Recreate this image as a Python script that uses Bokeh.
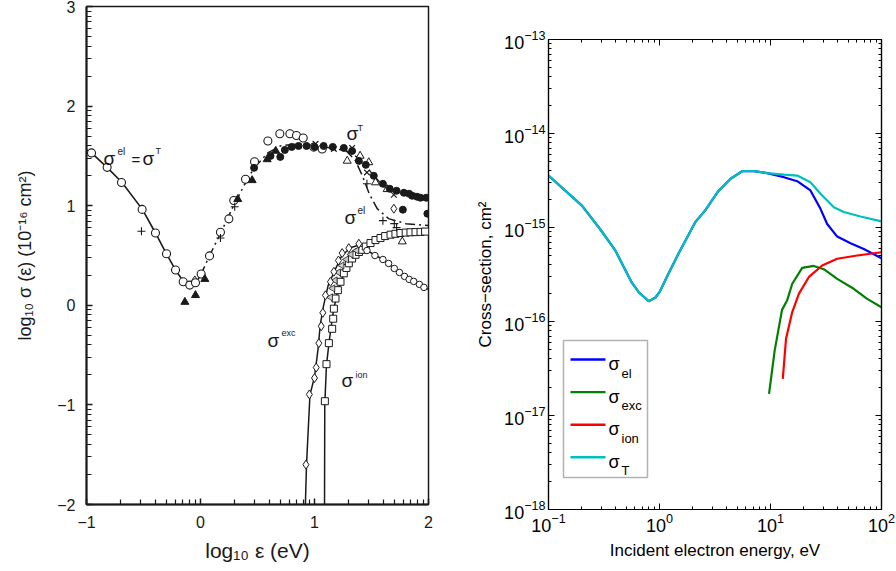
import math
from bokeh.plotting import figure
from bokeh.models import (FixedTicker, Label, BoxAnnotation, LogAxis,
                          LogTickFormatter, CustomJSTickFormatter)
from bokeh.layouts import row
from bokeh.embed import file_html
from bokeh.resources import INLINE

# ---------------- LEFT PANEL DATA (log10 E [eV], log10 sigma [1e-16 cm^2]) -----
fit_low_x = [-1.0, -0.956, -0.82, -0.69, -0.51, -0.395, -0.30, -0.22, -0.15, -0.09, -0.04, 0.0]
fit_low_y = [1.56, 1.53, 1.385, 1.235, 0.963, 0.726, 0.52, 0.355, 0.24, 0.205, 0.225, 0.30]
fit_el_x = [0.0, 0.08, 0.175, 0.29, 0.39, 0.47, 0.59, 0.70, 0.85, 1.0, 1.15, 1.28, 1.36, 1.42,
            1.48, 1.55, 1.65, 1.80, 2.0]
fit_el_y = [0.30, 0.50, 0.72, 1.00, 1.22, 1.38, 1.53, 1.60, 1.62, 1.60, 1.58, 1.55, 1.45, 1.30,
            1.12, 0.97, 0.87, 0.82, 0.80]
fit_T_x = [1.28, 1.40, 1.50, 1.60, 1.70, 1.80, 1.90, 2.0]
fit_T_y = [1.55, 1.47, 1.33, 1.20, 1.14, 1.12, 1.09, 1.08]
fit_exc_x = [0.92, 0.93, 0.96, 1.0, 1.03, 1.05, 1.08, 1.12, 1.17, 1.24, 1.32, 1.38, 1.46, 1.60,
             1.70, 1.79, 1.87, 1.96, 2.0]
fit_exc_y = [-2.0, -1.6, -0.9, -0.72, -0.45, -0.2, 0.0, 0.2, 0.33, 0.50, 0.58, 0.60, 0.55, 0.46,
             0.37, 0.29, 0.24, 0.18, 0.16]
fit_ion_x = [1.088, 1.09, 1.105, 1.13, 1.16, 1.19, 1.23, 1.30, 1.36, 1.42, 1.50, 1.58, 1.67,
             1.76, 1.85, 2.0]
fit_ion_y = [-2.0, -1.0, -0.6, -0.35, -0.1, 0.08, 0.24, 0.42, 0.51, 0.56, 0.63, 0.68, 0.71,
             0.73, 0.74, 0.75]

ocirc_x = [-0.956, -0.819, -0.693, -0.512, -0.395, -0.298, -0.219, -0.152, -0.094, -0.044, 0.006,
           0.079, 0.175, 0.249, 0.292, 0.395, 0.474, 0.591, 0.696, 0.784, 0.842, 0.901, 0.994, 1.067]
ocirc_y = [1.53, 1.385, 1.233, 0.963, 0.726, 0.517, 0.355, 0.236, 0.203, 0.226, 0.314,
           0.496, 0.733, 0.868, 1.052, 1.266, 1.442, 1.65, 1.722, 1.722, 1.705, 1.679, 1.588, 1.57]
ftri_x = [-0.137, -0.044, 0.038, 0.327, 0.453, 0.585, 0.66]
ftri_y = [0.033, 0.101, 0.263, 1.065, 1.255, 1.465, 1.55]
fcirc_x = [0.47, 0.614, 0.70, 0.74, 0.80, 0.86, 0.93, 1.00, 1.08, 1.16, 1.257, 1.33, 1.389, 1.45,
           1.52, 1.60, 1.66, 1.72, 1.784, 1.83, 1.857, 1.90, 1.93, 1.98, 1.775, 1.99]
fcirc_y = [1.38, 1.50, 1.49, 1.56, 1.59, 1.60, 1.60, 1.59, 1.60, 1.59, 1.58, 1.55, 1.45, 1.41,
           1.30, 1.22, 1.17, 1.15, 1.13, 1.12, 1.10, 1.09, 1.08, 1.08, 0.96, 0.92]
otri_x = [1.287, 1.40, 1.476, 1.535, 1.637, 1.77]
otri_y = [1.45, 1.50, 1.435, 1.233, 1.165, 0.64]
cross_x = [1.009, 1.17, 1.33, 1.46, 1.696, 1.86]
cross_y = [1.621, 1.57, 1.58, 1.334, 1.11, 1.10]
plus_x = [-0.518, 0.175, 0.30, 1.46, 1.60, 1.70, 1.72]
plus_y = [0.743, 0.676, 0.99, 1.22, 0.85, 0.82, 0.78]
diam_x = [0.925, 0.955, 1.0, 1.015, 1.038, 1.059, 1.073, 1.096, 1.14, 1.17, 1.21, 1.243, 1.301,
          1.389, 1.696, -0.05]
diam_y = [-1.60, -0.895, -0.73, -0.625, -0.38, -0.21, -0.075, 0.10, 0.236, 0.337, 0.45, 0.524,
          0.574, 0.618, 0.97, 0.25]
sq_x = [1.091, 1.105, 1.126, 1.155, 1.164, 1.17, 1.184, 1.205, 1.228, 1.257, 1.28, 1.301, 1.33,
        1.36, 1.39, 1.418, 1.45, 1.491, 1.535, 1.579, 1.62, 1.667, 1.71, 1.754, 1.80, 1.842,
        1.886, 1.93, 1.97]
sq_y = [-0.963, -0.591, -0.38, -0.236, -0.135, -0.034, 0.068, 0.152, 0.236, 0.321, 0.375, 0.422,
        0.47, 0.507, 0.535, 0.557, 0.59, 0.625, 0.655, 0.676, 0.695, 0.709, 0.718, 0.726, 0.73,
        0.733, 0.735, 0.737, 0.74]
ltri_x = [1.14, 1.16, 1.18, 1.21, 1.24, 1.28, 1.32, 1.37]
ltri_y = [0.08, 0.17, 0.25, 0.33, 0.40, 0.46, 0.51, 0.55]
exc_circ_x = [1.46, 1.53, 1.60, 1.65, 1.70, 1.745, 1.79, 1.83, 1.87, 1.92, 1.96]
exc_circ_y = [0.55, 0.50, 0.46, 0.42, 0.37, 0.33, 0.29, 0.26, 0.24, 0.21, 0.18]

left_yticks = [-2, -1, 0, 1, 2, 3]
left_xticks = [-1, 0, 1, 2]
left_xlabel = "log\u2081\u2080 \u03b5 (eV)"
left_ylabel = "log\u2081\u2080 \u03c3 (\u03b5) (10\u207b\u00b9\u2076 cm\u00b2)"

# ---------------- RIGHT PANEL DATA (E [eV], sigma [cm^2]) -----------------------
E_T = [0.1, 0.2, 0.29, 0.4, 0.56, 0.65, 0.8, 0.92, 1.0, 1.2, 1.48, 2.1, 2.58, 3.35, 4.37, 5.56,
       7.08, 9.34, 13.2, 17.4, 22.9, 28.2, 37.2, 45.7, 64.7, 100]
sig_T = [3.57e-15, 1.71e-15, 9.7e-16, 5.7e-16, 2.62e-16, 2.05e-16, 1.64e-16, 1.8e-16, 2.05e-16,
         3.2e-16, 5.25e-16, 1.14e-15, 1.52e-15, 2.4e-15, 3.3e-15, 3.97e-15, 3.97e-15, 3.79e-15,
         3.66e-15, 3.57e-15, 3.03e-15, 2.29e-15, 1.64e-15, 1.46e-15, 1.31e-15, 1.16e-15]
E_el = [0.1, 0.2, 0.29, 0.4, 0.56, 0.65, 0.8, 0.92, 1.0, 1.2, 1.48, 2.1, 2.58, 3.35, 4.37, 5.56,
        7.08, 9.34, 13.2, 17.4, 22.9, 28.2, 32.4, 39.9, 52.6, 69.3, 100]
sig_el = [3.57e-15, 1.71e-15, 9.7e-16, 5.7e-16, 2.62e-16, 2.05e-16, 1.64e-16, 1.8e-16, 2.05e-16,
          3.2e-16, 5.25e-16, 1.14e-15, 1.52e-15, 2.4e-15, 3.3e-15, 3.97e-15, 3.97e-15, 3.79e-15,
          3.43e-15, 3.11e-15, 2.48e-15, 1.58e-15, 1.09e-15, 8.0e-16, 6.8e-16, 5.9e-16, 4.7e-16]
E_exc = [9.7, 10.9, 12.7, 14.1, 15.7, 19.3, 24.5, 30.2, 39.9, 56.2, 74.3, 100]
sig_exc = [1.7e-17, 4.9e-17, 1.33e-16, 1.67e-16, 2.52e-16, 3.72e-16, 3.9e-16, 3.6e-16, 2.84e-16,
           2.23e-16, 1.74e-16, 1.42e-16]
E_ion = [12.9, 13.8, 15.7, 18.0, 22.1, 29.2, 39.9, 60.4, 100]
sig_ion = [2.45e-17, 6.55e-17, 1.26e-16, 1.97e-16, 2.96e-16, 3.94e-16, 4.65e-16, 5.04e-16, 5.45e-16]

right_xticks = [0.1, 1, 10, 100]
right_yticks = [1e-18, 1e-17, 1e-16, 1e-15, 1e-14, 1e-13]
legend_names = [("el", "#0000FF"), ("exc", "#008000"), ("ion", "#FF0000"), ("T", "#00BFBF")]

FONT = "Liberation Sans"
INK = "#1a1a1a"

# =============================== LEFT FIGURE =====================================
L_FX, L_FY = 86, 504   # frame bottom-left in canvas px
p1 = figure(frame_width=342, frame_height=498, min_border_left=86, min_border_right=20,
            min_border_top=6, min_border_bottom=67, x_range=(-1, 2), y_range=(-2, 3),
            title=None, output_backend="svg", toolbar_location=None)
p1.frame_align = False
p1.xgrid.visible = False
p1.ygrid.visible = False
p1.outline_line_color = INK
p1.outline_line_width = 1.5

xminor = [d + math.log10(k) for d in range(-1, 2) for k in range(2, 10)]
yminor = [d + math.log10(k) for d in range(-2, 3) for k in range(2, 10)]
p1.xaxis.ticker = FixedTicker(ticks=left_xticks, minor_ticks=xminor)
p1.yaxis.ticker = FixedTicker(ticks=left_yticks, minor_ticks=yminor)
for ax in (p1.below[0], p1.left[0]):
    ax.major_tick_in = 6
    ax.major_tick_out = 0
    ax.minor_tick_in = 5
    ax.minor_tick_out = 0
    ax.axis_line_width = 2
    ax.axis_line_color = INK
    ax.major_tick_line_color = INK
    ax.minor_tick_line_color = INK
    ax.major_tick_line_width = 1.5
    ax.minor_tick_line_width = 1.2
    ax.major_label_text_font = FONT
    ax.major_label_text_font_size = "16px"
    ax.major_label_text_color = INK
    ax.major_label_standoff = 11
    ax.axis_label_text_font = FONT
    ax.axis_label_text_font_style = "normal"
    ax.axis_label_text_color = INK
p1.below[0].axis_label = left_xlabel
p1.below[0].axis_label_text_font_size = "21px"
p1.below[0].axis_label_standoff = 8
p1.left[0].axis_label = left_ylabel
p1.left[0].axis_label_text_font_size = "18px"
p1.left[0].axis_label_standoff = 19

p1.line(fit_low_x, fit_low_y, line_color=INK, line_width=1.6)
p1.line(fit_el_x, fit_el_y, line_color=INK, line_width=1.5, line_dash="10 4 2 4")
p1.line(fit_T_x, fit_T_y, line_color=INK, line_width=1.4, line_dash="6 4")
p1.line(fit_exc_x, fit_exc_y, line_color=INK, line_width=1.5)
p1.line(fit_ion_x, fit_ion_y, line_color=INK, line_width=1.5)

p1.scatter(sq_x, sq_y, marker="square", size=7, fill_color="white", line_color=INK, line_width=1)
p1.scatter(ltri_x, ltri_y, marker="triangle", angle=math.pi / 2, size=7, fill_color="#cccccc",
           line_color=INK, line_width=0.8)
p1.scatter(exc_circ_x, exc_circ_y, marker="circle", size=6.5, fill_color="white", line_color=INK,
           line_width=1)
p1.scatter(diam_x, diam_y, marker="diamond", size=9, fill_color="white", line_color=INK,
           line_width=1)
p1.scatter(ocirc_x, ocirc_y, marker="circle", size=8, fill_color="white", line_color=INK,
           line_width=1.1)
p1.scatter(otri_x, otri_y, marker="triangle", size=8, fill_color="white", line_color=INK,
           line_width=1)
p1.scatter(fcirc_x, fcirc_y, marker="circle", size=7, fill_color=INK, line_color=INK)
p1.scatter(ftri_x, ftri_y, marker="triangle", size=8, fill_color=INK, line_color=INK)
p1.scatter(cross_x, cross_y, marker="x", size=8, line_color=INK, line_width=1.2)
p1.scatter(plus_x, plus_y, marker="cross", size=8, line_color=INK, line_width=1.1)


def lab(fig, fx, fy, text, px, py, size, bold=False, color=INK):
    fig.add_layout(Label(x=px - fx, y=fy - py, x_units="screen", y_units="screen", text=text,
                         text_font=FONT, text_font_size=f"{size}px",
                         text_font_style="bold" if bold else "normal",
                         text_color=color, text_align="left", text_baseline="alphabetic"))


for t, px, py, s in [("σ", 103, 158, 19), ("el", 117, 151, 10), ("=", 131, 159, 15),
                     ("σ", 142, 158, 19), ("T", 155, 150, 9),
                     ("σ", 346, 133, 19), ("T", 357, 127, 9),
                     ("σ", 344, 217, 19), ("el", 357, 210, 10),
                     ("σ", 267, 340, 19), ("exc", 281, 332, 9),
                     ("σ", 341, 380, 19), ("ion", 355, 374, 9)]:
    lab(p1, L_FX, L_FY, t, px, py, s)

# =============================== RIGHT FIGURE ====================================
R_FX, R_FY = 548, 509
p2 = figure(x_axis_type="log", y_axis_type="log", x_range=(0.1, 100), y_range=(1e-18, 1e-13),
            frame_width=333, frame_height=470, min_border_left=100, min_border_right=15,
            min_border_top=39, min_border_bottom=62, title=None, output_backend="svg",
            toolbar_location=None)
p2.frame_align = False
p2.xgrid.visible = False
p2.ygrid.visible = False
p2.outline_line_color = "black"
p2.outline_line_width = 1.2

bottom_ax = p2.below[0]
left_ax = p2.left[0]
rxminor = [10.0 ** d * k for d in range(-1, 2) for k in range(2, 10)]
ryminor = [10.0 ** d * k for d in range(-18, -13) for k in range(2, 10)]
bottom_ax.ticker = FixedTicker(ticks=right_xticks, minor_ticks=rxminor)
left_ax.ticker = FixedTicker(ticks=right_yticks, minor_ticks=ryminor)
bottom_ax.formatter = LogTickFormatter()
left_ax.formatter = LogTickFormatter()

top_ax = LogAxis(ticker=FixedTicker(ticks=right_xticks, minor_ticks=rxminor),
                 formatter=CustomJSTickFormatter(code="return ''"))
right_ax = LogAxis(ticker=FixedTicker(ticks=right_yticks, minor_ticks=ryminor),
                   formatter=CustomJSTickFormatter(code="return ''"))
p2.add_layout(top_ax, "above")
p2.add_layout(right_ax, "right")

for ax in (bottom_ax, left_ax, top_ax, right_ax):
    ax.major_tick_in = 6
    ax.major_tick_out = 0
    ax.minor_tick_in = 3
    ax.minor_tick_out = 0
    ax.axis_line_color = "black"
    ax.axis_line_width = 1.2
    ax.major_tick_line_color = "black"
    ax.minor_tick_line_color = "black"
    ax.major_label_text_font = FONT
    ax.major_label_text_font_size = "18px"
    ax.major_label_text_color = "black"
    ax.major_label_standoff = 3
top_ax.major_label_standoff = 0
right_ax.major_label_standoff = 0

bottom_ax.axis_label = "Incident electron energy, eV"
left_ax.axis_label = "Cross\u2212section, cm\u00b2"
for ax in (bottom_ax, left_ax):
    ax.axis_label_text_font = FONT
    ax.axis_label_text_font_size = "17px"
    ax.axis_label_text_font_style = "normal"
    ax.axis_label_text_color = "black"
    ax.axis_label_standoff = 6

p2.line(E_el, sig_el, line_color="#0000FF", line_width=2.2)
p2.line(E_exc, sig_exc, line_color="#008000", line_width=2.2)
p2.line(E_ion, sig_ion, line_color="#FF0000", line_width=2.2)
p2.line(E_T, sig_T, line_color="#00BFBF", line_width=2.2)

p2.add_layout(BoxAnnotation(left=563 - R_FX, right=647 - R_FX, top=R_FY - 340, bottom=R_FY - 477,
                            left_units="screen", right_units="screen", top_units="screen",
                            bottom_units="screen", fill_color="white", fill_alpha=1.0,
                            line_color="black", line_width=1.5))
for i, (name, col) in enumerate(legend_names):
    yc = 359 + 32.6 * i
    p2.add_layout(BoxAnnotation(left=570 - R_FX, right=605 - R_FX, top=R_FY - yc + 1.2,
                                bottom=R_FY - yc - 1.2, left_units="screen", right_units="screen",
                                top_units="screen", bottom_units="screen", fill_color=col,
                                fill_alpha=1.0, line_alpha=0))
    lab(p2, R_FX, R_FY, "σ", 608, yc + 4.5, 18, color="black")
    lab(p2, R_FX, R_FY, name, 621, yc + 13.5, 13, color="black")

layout = row(p1, p2)
open("out.html", "w").write(file_html(layout, INLINE))
